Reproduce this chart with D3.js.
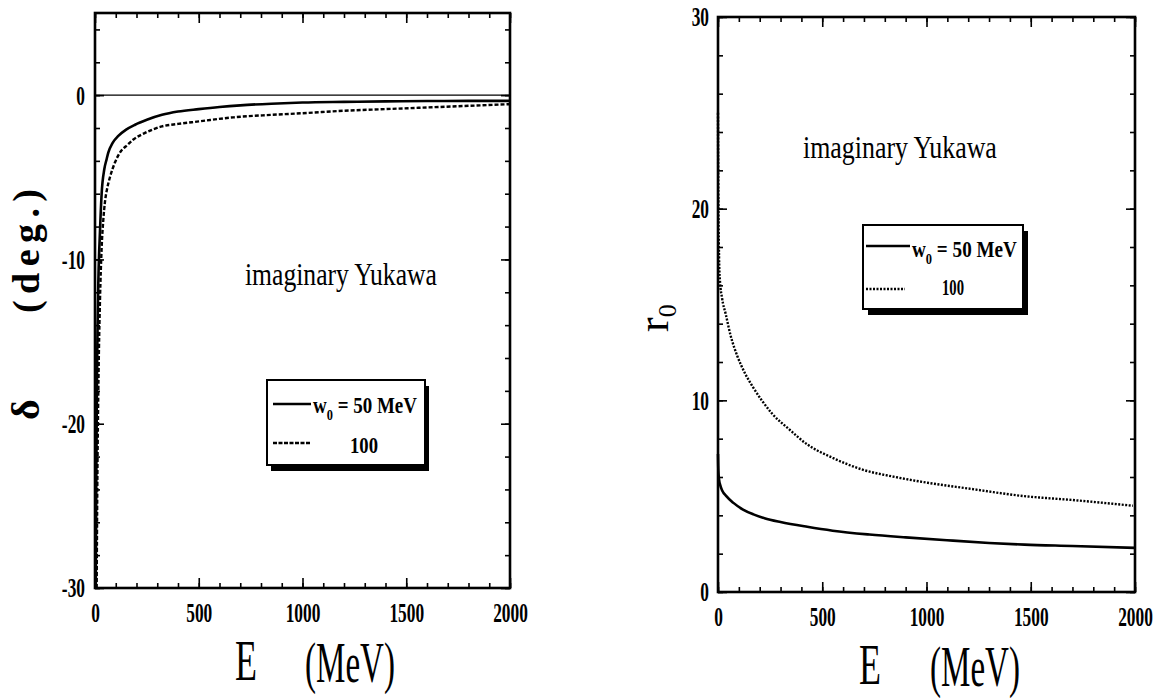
<!DOCTYPE html>
<html>
<head>
<meta charset="utf-8">
<script src="https://cdn.jsdelivr.net/npm/d3@7"></script>
<style>
  body { margin: 0; background: #fff; }
  svg { display: block; }
</style>
</head>
<body>
<svg id="chart" width="1163" height="698"></svg>
<script>
// Imaginary Yukawa potential: phase shift δ and radius r0 versus lab energy E

// Phase shift δ (deg.) for w0 = 50 MeV
const phaseE50 = [4, 6, 9, 12, 16, 24, 32, 45, 56, 64, 85, 111, 150, 193, 250, 323, 400, 500, 600, 700, 850, 1000, 1200, 1400, 1600, 1800, 2000];
const phase50  = [-30, -24, -18, -14.5, -11.4, -8.3, -6.0, -4.5, -3.9, -3.5, -2.9, -2.5, -2.1, -1.8, -1.5, -1.2, -1.0, -0.85, -0.72, -0.62, -0.52, -0.45, -0.41, -0.38, -0.36, -0.35, -0.35];

// Phase shift δ (deg.) for w0 = 100 MeV
const phaseE100 = [8, 11, 15, 19, 24, 32, 40, 48, 60, 72, 96, 120, 159, 185, 241, 323, 400, 500, 667, 850, 1000, 1200, 1400, 1600, 1800, 2000];
const phase100  = [-30, -24, -19, -15.5, -12.5, -9.3, -7.6, -6.5, -5.6, -5.0, -4.1, -3.5, -3.0, -2.7, -2.3, -1.9, -1.75, -1.6, -1.35, -1.2, -1.1, -0.95, -0.85, -0.75, -0.65, -0.55];

// Radius r0 for w0 = 50 MeV
const radiusE50 = [0, 1, 3, 6, 10, 20, 40, 74, 120, 170, 223, 300, 428, 550, 726, 900, 1098, 1300, 1470, 1700, 2000];
const radius50  = [7.2, 6.6, 6.1, 5.8, 5.6, 5.3, 5.0, 4.65, 4.3, 4.05, 3.85, 3.65, 3.4, 3.2, 3.0, 2.85, 2.7, 2.56, 2.47, 2.4, 2.3];

// Radius r0 for w0 = 100 MeV
const radiusE100 = [0, 1, 2, 4, 6, 9, 20, 37, 60, 93, 130, 167, 210, 260, 340, 428, 550, 688, 850, 1005, 1200, 1470, 1700, 1990];
const radius100  = [25, 22, 20, 18.2, 17, 16.3, 15.3, 14.5, 13.4, 12.3, 11.4, 10.7, 10.0, 9.3, 8.5, 7.7, 7.0, 6.4, 6.0, 5.7, 5.4, 5.0, 4.8, 4.5];

// Tick values
const energyTicks = [0, 500, 1000, 1500, 2000];
const energyMinor = d3.range(0, 2001, 100);
const phaseTicks = [-30, -20, -10, 0];
const phaseMinor = d3.range(-30, 5.01, 2);
const radiusTicks = [0, 10, 20, 30];
const radiusMinor = d3.range(0, 30.01, 2);

// Text
const noteText = "imaginary Yukawa";
const legendFirst = ["w", "0", " = 50 MeV"];
const legendFirstR = ["w", "0", " =  50 MeV"];
const legendSecond = "100";

const SERIF = "'Liberation Serif', 'DejaVu Serif', serif";
const svg = d3.select("#chart");

function zip(xs, ys) { return xs.map((x, i) => [x, ys[i]]); }

// Place a serif label and squeeze it horizontally to a given width.
function label(parent, str, o) {
  const g = parent.append("g")
    .attr("transform", `translate(${o.x},${o.y}) rotate(${o.rotate || 0})`);
  const t = g.append("text")
    .attr("font-family", SERIF)
    .attr("font-size", o.size)
    .attr("font-weight", o.weight || "normal")
    .attr("text-anchor", o.anchor || "start")
    .attr("fill", "#000")
    .text(str);
  if (o.width) {
    const w = t.node().getComputedTextLength();
    t.attr("transform", `scale(${o.width / w},1)`);
  }
  return t;
}

// Frame, ticks on all four sides pointing inward, labels on left and bottom.
function panel(x, y, yTicks, yMinor, xLabelGap) {
  const [x0, x1] = x.range();
  const [y0, y1] = y.range();
  const g = svg.append("g");
  const SX = 0.62;

  const styleTicks = sel => {
    sel.select(".domain").remove();
    sel.selectAll(".tick line").attr("stroke", "#000").attr("stroke-width", 1.6);
  };

  // minor ticks
  g.append("g").attr("transform", `translate(0,${y0})`)
    .call(d3.axisBottom(x).tickValues(energyMinor).tickSize(-5).tickFormat("")).call(styleTicks);
  g.append("g").attr("transform", `translate(0,${y1})`)
    .call(d3.axisTop(x).tickValues(energyMinor).tickSize(-5).tickFormat("")).call(styleTicks);
  g.append("g").attr("transform", `translate(${x0},0)`)
    .call(d3.axisLeft(y).tickValues(yMinor).tickSize(-5).tickFormat("")).call(styleTicks);
  g.append("g").attr("transform", `translate(${x1},0)`)
    .call(d3.axisRight(y).tickValues(yMinor).tickSize(-5).tickFormat("")).call(styleTicks);

  // major ticks with labels
  const xb = g.append("g").attr("transform", `translate(0,${y0})`)
    .call(d3.axisBottom(x).tickValues(energyTicks).tickSize(-10).tickPadding(14).tickFormat(d3.format("d")))
    .call(styleTicks);
  g.append("g").attr("transform", `translate(0,${y1})`)
    .call(d3.axisTop(x).tickValues(energyTicks).tickSize(-10).tickFormat("")).call(styleTicks);
  const yl = g.append("g").attr("transform", `translate(${x0},0)`)
    .call(d3.axisLeft(y).tickValues(yTicks).tickSize(-9).tickPadding(xLabelGap / SX).tickFormat(d3.format("d")))
    .call(styleTicks);
  g.append("g").attr("transform", `translate(${x1},0)`)
    .call(d3.axisRight(y).tickValues(yTicks).tickSize(-9).tickFormat("")).call(styleTicks);

  [xb, yl].forEach(ax => ax.selectAll("text")
    .attr("font-family", SERIF).attr("font-size", 28).attr("font-weight", "bold")
    .attr("fill", "#000").attr("transform", `scale(${SX},1)`));
  yl.selectAll("text").text(d => d < 0 ? "-" + Math.abs(d) : d);

  // frame
  g.append("rect").attr("x", x0).attr("y", y1).attr("width", x1 - x0).attr("height", y0 - y1)
    .attr("fill", "none").attr("stroke", "#000").attr("stroke-width", 2.6);
  return g;
}

function legend(b, samples, textPos) {
  const g = svg.append("g");
  g.append("rect").attr("x", b.x + b.sx).attr("y", b.y + b.sy).attr("width", b.w).attr("height", b.h).attr("fill", "#000");
  g.append("rect").attr("x", b.x).attr("y", b.y).attr("width", b.w).attr("height", b.h)
    .attr("fill", "#fff").attr("stroke", "#000").attr("stroke-width", 2);
  samples.forEach(s => {
    g.append("line").attr("x1", s.x1).attr("x2", s.x2).attr("y1", s.y).attr("y2", s.y)
      .attr("stroke", "#000").attr("stroke-width", 2.6).attr("stroke-dasharray", s.dash || null);
  });
  // first entry: w0 = 50 MeV
  const gt = g.append("g").attr("transform", `translate(${textPos.x1},${textPos.y1})`);
  const t = gt.append("text").attr("font-family", SERIF).attr("font-size", 23).attr("font-weight", "bold").attr("fill", "#000");
  t.append("tspan").text(textPos.parts[0]);
  t.append("tspan").attr("font-size", 15).attr("dy", 7).text(textPos.parts[1]);
  t.append("tspan").attr("dy", -7).text(textPos.parts[2]);
  const w = t.node().getComputedTextLength();
  t.attr("transform", `scale(${textPos.w1 / w},1)`);
  label(g, legendSecond, { x: textPos.x2, y: textPos.y2, size: 23, weight: "bold", width: textPos.w2 });
}

// ---------- Left panel: phase shift ----------
const xL = d3.scaleLinear().domain([0, 2000]).range([95, 510]);
const yL = d3.scaleLinear().domain([-30, 5]).range([588, 13]);

svg.append("line").attr("x1", xL(0)).attr("x2", xL(2000)).attr("y1", yL(0)).attr("y2", yL(0))
  .attr("stroke", "#000").attr("stroke-width", 1.2);

const lineL = d3.line().x(d => xL(d[0])).y(d => yL(d[1])).curve(d3.curveMonotoneX);
svg.append("path").datum(zip(phaseE50, phase50)).attr("d", lineL)
  .attr("fill", "none").attr("stroke", "#000").attr("stroke-width", 2.6);
svg.append("path").datum(zip(phaseE100, phase100)).attr("d", lineL)
  .attr("fill", "none").attr("stroke", "#000").attr("stroke-width", 2.4).attr("stroke-dasharray", "4,2");

panel(xL, yL, phaseTicks, phaseMinor, 10);

label(svg, noteText, { x: 245, y: 285, size: 31, width: 192 });

legend({ x: 267, y: 380, w: 158, h: 85, sx: 4, sy: 6 },
  [{ x1: 273, x2: 311, y: 404 }, { x1: 273, x2: 311, y: 443, dash: "4,1.5" }],
  { parts: legendFirst, x1: 313, y1: 413, w1: 104, x2: 350, y2: 453, w2: 28 });

// axis titles
label(svg, "E", { x: 235, y: 680, size: 56, width: 22 });
label(svg, "(MeV)", { x: 305, y: 682, size: 56, width: 90 });
label(svg, "δ", { x: 39, y: 420, size: 40, weight: "bold", rotate: -90 });
svg.append("text")
  .attr("transform", "translate(39,313) rotate(-90)")
  .attr("font-family", SERIF).attr("font-size", 38).attr("font-weight", "bold")
  .attr("textLength", 124).attr("lengthAdjust", "spacing").text("(deg.)");

// ---------- Right panel: radius ----------
const xR = d3.scaleLinear().domain([0, 2000]).range([718, 1135]);
const yR = d3.scaleLinear().domain([0, 30]).range([592, 17]);

const lineR = d3.line().x(d => xR(d[0])).y(d => yR(d[1])).curve(d3.curveMonotoneX);
svg.append("path").datum(zip(radiusE50, radius50)).attr("d", lineR)
  .attr("fill", "none").attr("stroke", "#000").attr("stroke-width", 2.6);
svg.append("path").datum(zip(radiusE100, radius100)).attr("d", lineR)
  .attr("fill", "none").attr("stroke", "#000").attr("stroke-width", 2.4).attr("stroke-dasharray", "2,1.5");

panel(xR, yR, radiusTicks, radiusMinor, 9);

label(svg, noteText, { x: 803, y: 158, size: 31, width: 194 });

legend({ x: 863, y: 225, w: 160, h: 84, sx: 5, sy: 6 },
  [{ x1: 866, x2: 910, y: 246 }, { x1: 866, x2: 905, y: 289, dash: "2,1.5" }],
  { parts: legendFirstR, x1: 912, y1: 257, w1: 105, x2: 942, y2: 295, w2: 22 });

label(svg, "E", { x: 859, y: 684, size: 56, width: 22 });
label(svg, "(MeV)", { x: 930, y: 686, size: 56, width: 90 });

// r0 rotated, subscript drawn to the right of the baseline
const rt = svg.append("text")
  .attr("transform", "translate(668,332) rotate(-90)")
  .attr("font-family", SERIF).attr("font-size", 44).attr("fill", "#000");
rt.append("tspan").text("r");
rt.append("tspan").attr("font-size", 26).attr("dy", 8).text("0");
</script>
</body>
</html>
